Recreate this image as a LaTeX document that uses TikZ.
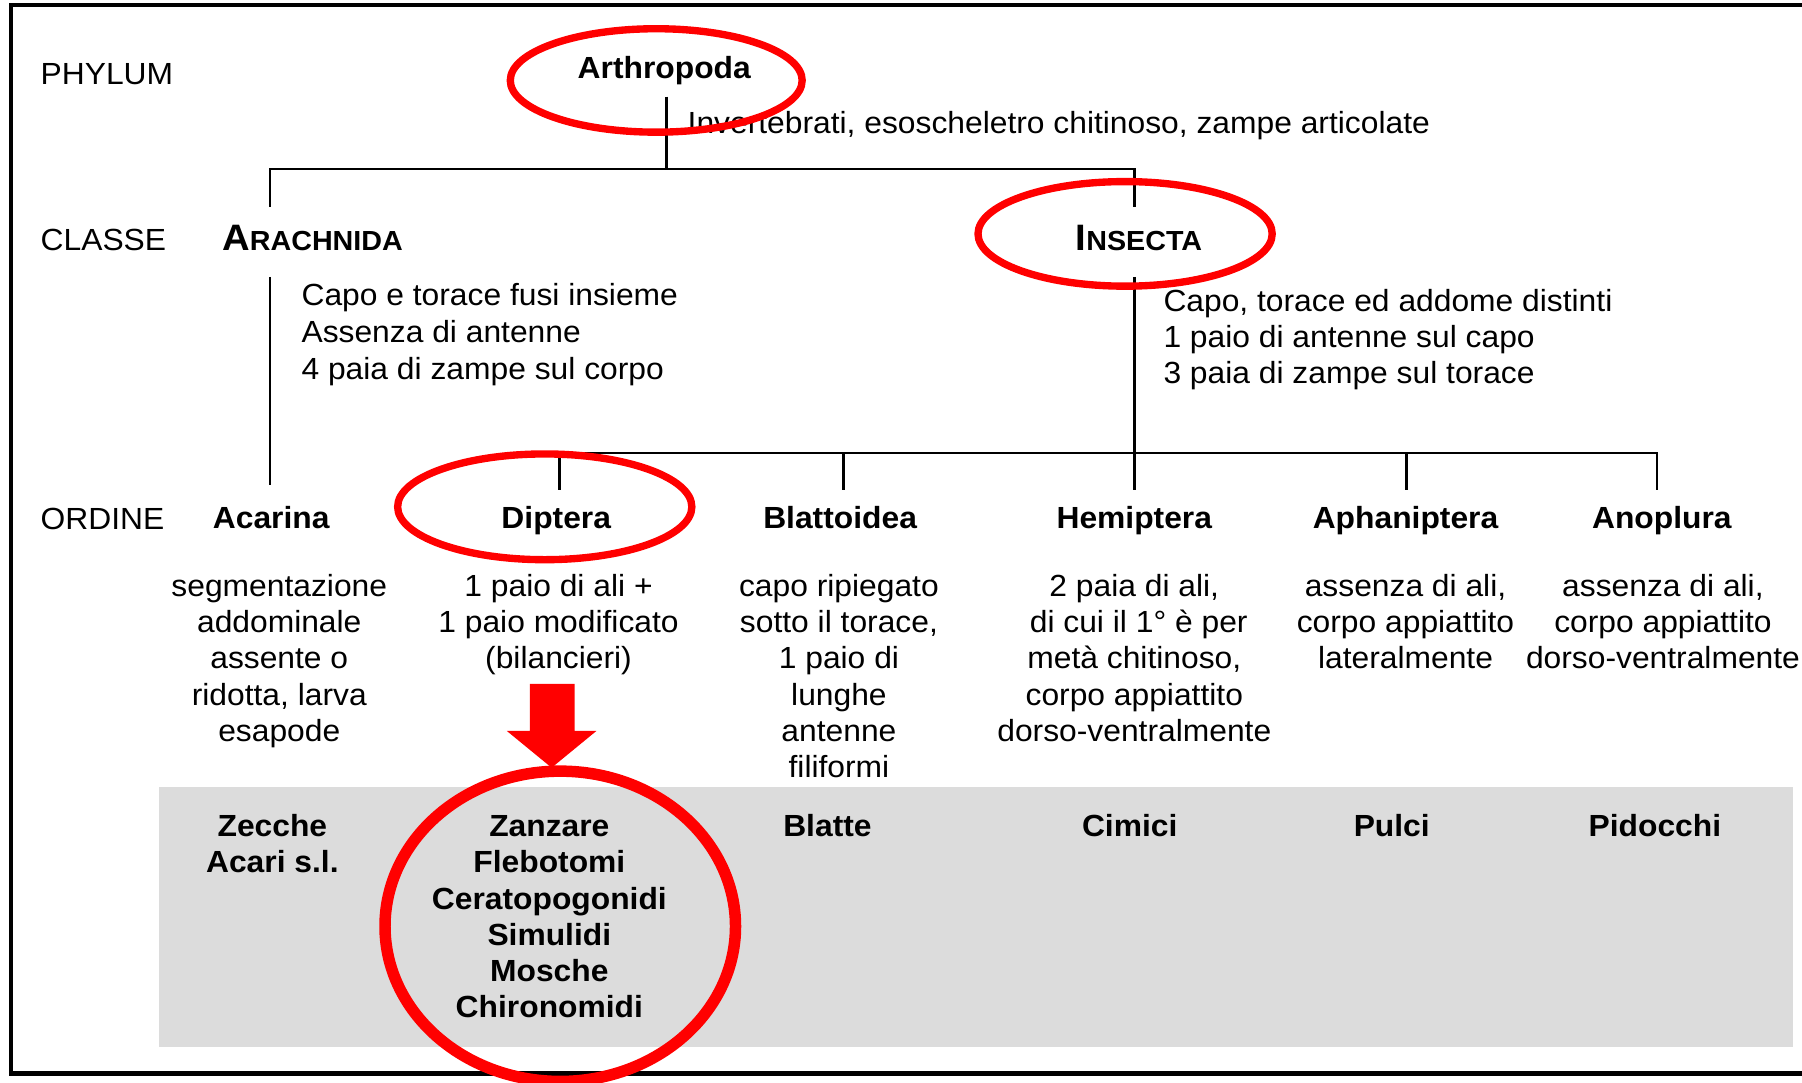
\documentclass[tikz,border=0pt]{standalone}
\usepackage{fontspec}
\setmainfont{Liberation Sans}[FakeStretch=1.04]
\definecolor{rred}{RGB}{255,0,0}
\definecolor{boxgray}{RGB}{220,220,220}
\newcommand{\mlc}[1]{\begin{tabular}[t]{@{}c@{}}#1\end{tabular}}
\newcommand{\mll}[1]{\begin{tabular}[t]{@{}l@{}}#1\end{tabular}}
\newcommand{\myscap}[2]{{\fontsize{16}{16}\selectfont #1}{\fontsize{12}{12}\selectfont #2}}
\tikzset{
  base txt/.style={font=\fontsize{13.3}{15.75}\selectfont, inner sep=0pt},
  lbl/.style={base txt, anchor=base west},
  ctr/.style={base txt, anchor=base},
  bld/.style={base txt, font=\fontsize{13.3}{15.75}\selectfont\bfseries, anchor=base},
  conn/.style={draw=black, line width=1.1pt},
  ring/.style={draw=rred, line width=3.2pt},
  bigring/.style={draw=rred, line width=5pt},
  framestyle/.style={draw=black, line width=2pt}
}
\begin{document}
\begin{tikzpicture}[x=0.5pt, y=-0.5pt]
\useasboundingbox (0,0) rectangle (1568,942);
% grey panel
\fill[boxgray] (138,685) rectangle (1560,911);
% frame
\draw[framestyle] (1590,4.5) -- (9.5,4.5) -- (9.5,934) -- (1590,934);

% level labels
\node[lbl] (phy) at (35,73.5) {PHYLUM};
\node[lbl] (cls) at (35,218) {CLASSE};
\node[lbl] (ord) at (35,461) {ORDINE};

% phylum
\node[bld] (arthro) at (578,68) {Arthropoda};
\node[lbl] (inv) at (598,116) {Invertebrati, esoscheletro chitinoso, zampe articolate};

% classes
\node[bld, anchor=base west] (arach) at (193,218) {\myscap{A}{RACHNIDA}};
\node[bld] (insect) at (991,218) {\myscap{I}{NSECTA}};
\node[base txt, anchor=base west, font=\fontsize{13.3}{16}\selectfont] (arachd) at (262,266) {\mll{Capo e torace fusi insieme\\Assenza di antenne\\4 paia di zampe sul corpo}};
\node[lbl] (insectd) at (1012,271) {\mll{Capo, torace ed addome distinti\\1 paio di antenne sul capo\\3 paia di zampe sul torace}};

% orders
\node[bld] (acar) at (236,460) {Acarina};
\node[bld] (dipt) at (484,460) {Diptera};
\node[bld] (blat) at (731,460) {Blattoidea};
\node[bld] (hemi) at (987,460) {Hemiptera};
\node[bld] (apha) at (1223,460) {Aphaniptera};
\node[bld] (anop) at (1446,460) {Anoplura};

\node[ctr] (acard) at (243,519) {\mlc{segmentazione\\addominale\\assente o\\ridotta, larva\\esapode}};
\node[ctr] (diptd) at (486,519) {\mlc{1 paio di ali +\\1 paio modificato\\(bilancieri)}};
\node[ctr] (blatd) at (730,519) {\mlc{capo ripiegato\\sotto il torace,\\1 paio di\\lunghe\\antenne\\filiformi}};
\node[ctr] (hemid) at (987,519) {\mlc{2 paia di ali,\\\ di cui il 1° è per\\metà chitinoso,\\corpo appiattito\\dorso-ventralmente}};
\node[ctr] (aphad) at (1223,519) {\mlc{assenza di ali,\\corpo appiattito\\lateralmente}};
\node[ctr] (anopd) at (1447,519) {\mlc{assenza di ali,\\corpo appiattito\\dorso-ventralmente}};

% examples
\node[bld] (ex1) at (237,728) {\mlc{Zecche\\Acari s.l.}};
\node[bld] (ex2) at (478,728) {\mlc{Zanzare\\Flebotomi\\Ceratopogonidi\\Simulidi\\Mosche\\Chironomidi}};
\node[bld] (ex3) at (720,728) {Blatte};
\node[bld] (ex4) at (983,728) {Cimici};
\node[bld] (ex5) at (1211,728) {Pulci};
\node[bld] (ex6) at (1440,728) {Pidocchi};

% connector coordinates
\coordinate (a0) at (580,84);
\coordinate (a1) at (580,147);
\coordinate (arT) at (235,180);
\coordinate (inT) at (987,180);
\coordinate (arB0) at (235,241);
\coordinate (arB1) at (235,422);
\coordinate (inB0) at (987,241);
\coordinate (inB1) at (987,426);
\coordinate (bar) at (987,394);
\coordinate (tDip) at (487,426);
\coordinate (tBla) at (734,426);
\coordinate (tAph) at (1224,426);
\coordinate (tAno) at (1442,426);

% connectors
\draw[conn] (a0) -- (a1);
\draw[conn] (arT) |- (a1) -| (inT);
\draw[conn] (arB0) -- (arB1);
\draw[conn] (inB0) -- (inB1);
\draw[conn] (tDip) |- (bar) -| (tAno);
\draw[conn] (tBla) -- (tBla |- bar);
\draw[conn] (tAph) -- (tAph |- bar);

% red highlights
\draw[ring] (571,70) ellipse [x radius=63.5pt, y radius=22.5pt];
\draw[ring] (979,203.5) ellipse [x radius=64pt, y radius=22.75pt];
\draw[ring] (474,441) ellipse [x radius=64pt, y radius=23pt];
\fill[rred] (461,595) -- (500,595) -- (500,636) -- (519,636) -- (480,668) -- (441,636) -- (461,636) -- cycle;
\draw[bigring] (487.5,806) ellipse [x radius=76.25pt, y radius=67.5pt];
\end{tikzpicture}
\end{document}
